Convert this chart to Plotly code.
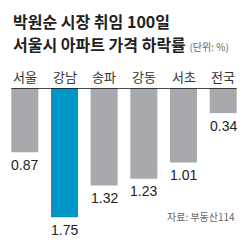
import plotly.graph_objects as go

categories = ["서울", "강남", "송파", "강동", "서초", "전국"]
values = [0.87, 1.75, 1.32, 1.23, 1.01, 0.34]
value_labels = ["0.87", "1.75", "1.32", "1.23", "1.01", "0.34"]
highlight = "강남"
title_line1 = "박원순 시장 취임 100일"
title_line2 = "서울시 아파트 가격 하락률"
unit_text = "(단위: %)"
source_text = "자료: 부동산114"

GRAY = "#a7a9ac"
BLUE = "#0096c8"
colors = [BLUE if c == highlight else GRAY for c in categories]

KFONT = "Noto Sans CJK KR"
NFONT = "Liberation Sans"

fig = go.Figure()
fig.add_trace(go.Bar(
    x=categories, y=values, marker=dict(color=colors, line=dict(width=0)),
    hoverinfo="skip",
))

annotations = []
# value labels under bars
for c, v, t in zip(categories, values, value_labels):
    annotations.append(dict(x=c, y=v, xref="x", yref="y", text=t, showarrow=False,
                            yanchor="middle", xanchor="center", yshift=-12.5,
                            font=dict(family=NFONT, size=14, color="#222222")))
# category labels on top
for c in categories:
    annotations.append(dict(x=c, y=1, xref="x", yref="paper", text=c, showarrow=False,
                            yanchor="middle", xanchor="center", yshift=12,
                            font=dict(family=KFONT, size=13, color="#333333")))
# title
annotations.append(dict(x=0, y=1, xref="paper", yref="paper", xanchor="left", yanchor="middle",
                        xshift=6, yshift=67.5, showarrow=False, text=title_line1,
                        font=dict(family=KFONT, size=16, color="#222222", weight="bold")))
annotations.append(dict(x=0, y=1, xref="paper", yref="paper", xanchor="left", yanchor="middle",
                        xshift=6, yshift=44, showarrow=False,
                        text=title_line2 + " <span style='font-size:10px;color:#666666;font-weight:normal'>" + unit_text + "</span>",
                        font=dict(family=KFONT, size=16, color="#222222", weight="bold")))
# source
annotations.append(dict(x=5.34, y=1.744, xref="x", yref="y", xanchor="right", yanchor="middle",
                        showarrow=False, text=source_text,
                        font=dict(family=KFONT, size=10, color="#666666")))

fig.update_layout(
    width=250, height=250,
    margin=dict(l=5, r=7, t=88, b=20),
    paper_bgcolor="white", plot_bgcolor="white",
    bargap=0.32, showlegend=False,
    xaxis=dict(range=[-0.5, 5.5], showticklabels=False, showgrid=False, zeroline=False, showline=False, ticks=""),
    yaxis=dict(range=[1.924, 0], showticklabels=False, showgrid=False, zeroline=False, showline=False, ticks=""),
    annotations=annotations,
    shapes=[dict(type="line", xref="x", yref="y", x0=-0.34, x1=5.34, y0=0, y1=0,
                 line=dict(color="#111111", width=1.5))],
)

fig.write_html("out.html")
